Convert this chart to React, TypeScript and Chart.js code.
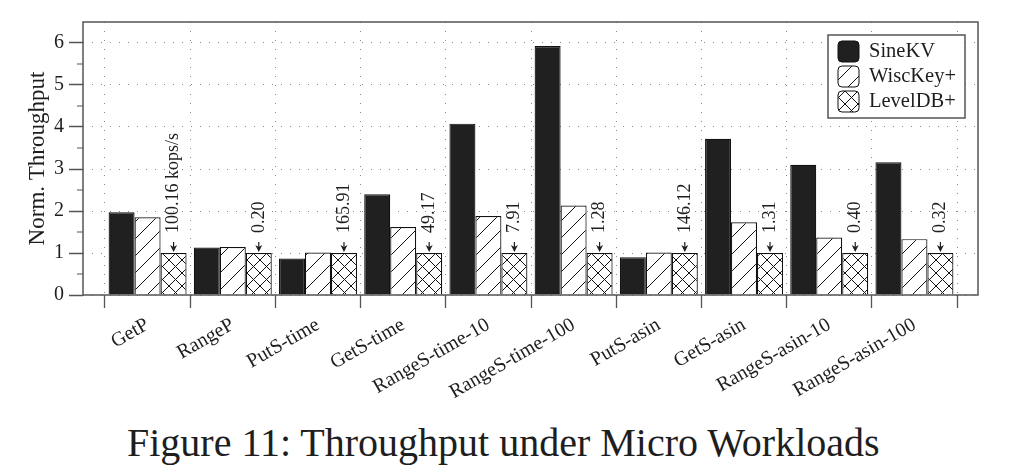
import React, { useEffect, useRef } from 'react';
import { Chart, registerables } from 'chart.js';

Chart.register(...registerables);

const categories = [
  'GetP',
  'RangeP',
  'PutS-time',
  'GetS-time',
  'RangeS-time-10',
  'RangeS-time-100',
  'PutS-asin',
  'GetS-asin',
  'RangeS-asin-10',
  'RangeS-asin-100',
];
const seriesNames = ['SineKV', 'WiscKey+', 'LevelDB+'];
const sineKV = [1.97, 1.13, 0.87, 2.4, 4.08, 5.93, 0.9, 3.72, 3.1, 3.16];
const wiscKey = [1.85, 1.14, 1.01, 1.62, 1.88, 2.13, 1.01, 1.73, 1.37, 1.33];
const levelDB = [1, 1, 1, 1, 1, 1, 1, 1, 1, 1];
const baselineLabels = ['100.16 kops/s', '0.20', '165.91', '49.17', '7.91', '1.28', '146.12', '1.31', '0.40', '0.32'];
const yTicks = [0, 1, 2, 3, 4, 5, 6];
const yMinorTicks = [0.5, 1.5, 2.5, 3.5, 4.5, 5.5];
const yMax = 6.5;
const caption = 'Figure 11: Throughput under Micro Workloads';

const SERIF = '"Liberation Serif", "Times New Roman", serif';
const AXIS = '#555';
const INK = '#1e1e1e';

function makePattern(ctx: CanvasRenderingContext2D, size: number, cross: boolean) {
  const c = document.createElement('canvas');
  c.width = size;
  c.height = size;
  const g = c.getContext('2d')!;
  g.fillStyle = '#ffffff';
  g.fillRect(0, 0, size, size);
  g.strokeStyle = '#111';
  g.lineWidth = 1;
  g.beginPath();
  g.moveTo(-1, size + 1);
  g.lineTo(size + 1, -1);
  g.moveTo(-1, 1);
  g.lineTo(1, -1);
  g.moveTo(size - 1, size + 1);
  g.lineTo(size + 1, size - 1);
  if (cross) {
    g.moveTo(-1, -1);
    g.lineTo(size + 1, size + 1);
    g.moveTo(size - 1, -1);
    g.lineTo(size + 1, 1);
    g.moveTo(-1, size - 1);
    g.lineTo(1, size + 1);
  }
  g.stroke();
  return ctx.createPattern(c, 'repeat')!;
}

export default function App() {
  const canvasRef = useRef<HTMLCanvasElement | null>(null);

  useEffect(() => {
    const canvas = canvasRef.current!;
    const ctx0 = canvas.getContext('2d')!;
    const hatch = makePattern(ctx0, 17, false);
    const cross = makePattern(ctx0, 13, true);
    const fills: (string | CanvasPattern)[] = ['#202020', hatch, cross];
    const series = [sineKV, wiscKey, levelDB];

    const annotatePlugin = {
      id: 'annotate',
      afterDatasetsDraw(chart: any) {
        const meta = chart.getDatasetMeta(2);
        const ctx = chart.ctx as CanvasRenderingContext2D;
        ctx.save();
        ctx.fillStyle = INK;
        ctx.strokeStyle = INK;
        ctx.lineWidth = 1.2;
        ctx.font = `18px ${SERIF}`;
        meta.data.forEach((bar: any, i: number) => {
          const { x, y } = bar.getProps(['x', 'y'], true);
          ctx.beginPath();
          ctx.moveTo(x, y - 11);
          ctx.lineTo(x, y - 5);
          ctx.stroke();
          ctx.beginPath();
          ctx.moveTo(x, y - 1);
          ctx.lineTo(x - 3.5, y - 8);
          ctx.lineTo(x, y - 6);
          ctx.lineTo(x + 3.5, y - 8);
          ctx.closePath();
          ctx.fill();
          ctx.save();
          ctx.translate(x, y - 20);
          ctx.rotate(-Math.PI / 2);
          ctx.textAlign = 'left';
          ctx.textBaseline = 'middle';
          ctx.fillText(baselineLabels[i], 0, 0);
          ctx.restore();
        });
        ctx.restore();
      },
    };

    const framePlugin = {
      id: 'frame',
      afterDraw(chart: any) {
        const ctx = chart.ctx as CanvasRenderingContext2D;
        const { left, right, top, bottom } = chart.chartArea;
        const yScale = chart.scales.y;
        ctx.save();
        ctx.strokeStyle = AXIS;
        ctx.lineWidth = 1.5;
        ctx.strokeRect(left, top, right - left, bottom - top);
        ctx.lineWidth = 1.2;
        ctx.beginPath();
        yMinorTicks.forEach((v) => {
          const py = yScale.getPixelForValue(v);
          ctx.moveTo(left - 6, py);
          ctx.lineTo(left, py);
        });
        ctx.stroke();

        const w = 137;
        const h = 83;
        const lx = right - 13 - w;
        const ly = top + 13;
        ctx.fillStyle = '#ffffff';
        ctx.fillRect(lx, ly, w, h);
        ctx.strokeStyle = AXIS;
        ctx.lineWidth = 1.5;
        ctx.strokeRect(lx, ly, w, h);
        ctx.font = `20.5px ${SERIF}`;
        ctx.textAlign = 'left';
        ctx.textBaseline = 'alphabetic';
        seriesNames.forEach((name, k) => {
          const sx = lx + 10;
          const sy = ly + 6 + 25 * k;
          ctx.beginPath();
          (ctx as any).roundRect(sx, sy, 21, 21, 4);
          ctx.fillStyle = fills[k] as any;
          ctx.fill();
          ctx.strokeStyle = '#111';
          ctx.lineWidth = 1;
          ctx.stroke();
          ctx.fillStyle = INK;
          ctx.fillText(name, lx + 41, ly + 22 + 25 * k);
        });
        ctx.restore();
      },
    };

    const chart = new Chart(canvas, {
      type: 'bar',
      data: {
        datasets: series.map((vals, k) => ({
          label: seriesNames[k],
          data: vals.map((v, i) => ({ x: i, y: v })),
          backgroundColor: fills[k] as any,
          borderColor: '#111',
          borderWidth: 1.2,
          categoryPercentage: 0.915,
          barPercentage: 1,
        })),
      },
      options: {
        animation: false,
        responsive: false,
        events: [],
        layout: { padding: { top: 22, right: 52, left: 0, bottom: 0 } },
        plugins: {
          legend: { display: false },
          tooltip: { enabled: false },
        },
        scales: {
          x: {
            type: 'linear',
            min: -0.758,
            max: 9.746,
            offset: false,
            afterBuildTicks(scale: any) {
              scale.ticks = categories.map((_, i) => ({ value: i }));
            },
            afterFit(scale: any) {
              scale.height = 115;
            },
            ticks: {
              autoSkip: false,
              maxRotation: 30,
              minRotation: 30,
              padding: 5,
              color: INK,
              font: { family: SERIF, size: 20 },
              callback: (_v: any, i: number) => categories[i],
            },
            grid: {
              offset: true,
              color: '#8a8a8a',
              lineWidth: 1,
              tickLength: 13,
              tickColor: AXIS,
              tickWidth: 1.3,
              tickBorderDash: [1, 0],
            },
            border: { display: false, dash: [1, 8] },
          },
          y: {
            type: 'linear',
            min: 0,
            max: yMax,
            afterBuildTicks(scale: any) {
              scale.ticks = yTicks.map((v) => ({ value: v }));
            },
            afterFit(scale: any) {
              scale.width = 83;
            },
            ticks: {
              padding: 5,
              color: INK,
              font: { family: SERIF, size: 20 },
              callback: (v: any) => String(v),
            },
            grid: {
              color: '#8a8a8a',
              lineWidth: 1,
              tickLength: 14,
              tickColor: AXIS,
              tickWidth: 1.3,
              tickBorderDash: [1, 0],
            },
            border: { display: false, dash: [1, 8] },
            title: {
              display: true,
              text: 'Norm. Throughput',
              color: INK,
              font: { family: SERIF, size: 23 },
              padding: { top: 24.5, bottom: 0 },
            },
          },
        },
      },
      plugins: [annotatePlugin, framePlugin],
    } as any);

    return () => chart.destroy();
  }, []);

  return (
    <div style={{ position: 'absolute', left: 0, top: 0, width: 1030, height: 473, background: '#fff' }}>
      <canvas ref={canvasRef} width={1030} height={410} style={{ position: 'absolute', left: 0, top: 0, width: 1030, height: 410 }} />
      <div
        style={{
          position: 'absolute',
          left: 127,
          top: 423,
          fontFamily: SERIF,
          fontSize: 40,
          lineHeight: '40px',
          color: INK,
          whiteSpace: 'nowrap',
        }}
      >
        {caption}
      </div>
    </div>
  );
}
